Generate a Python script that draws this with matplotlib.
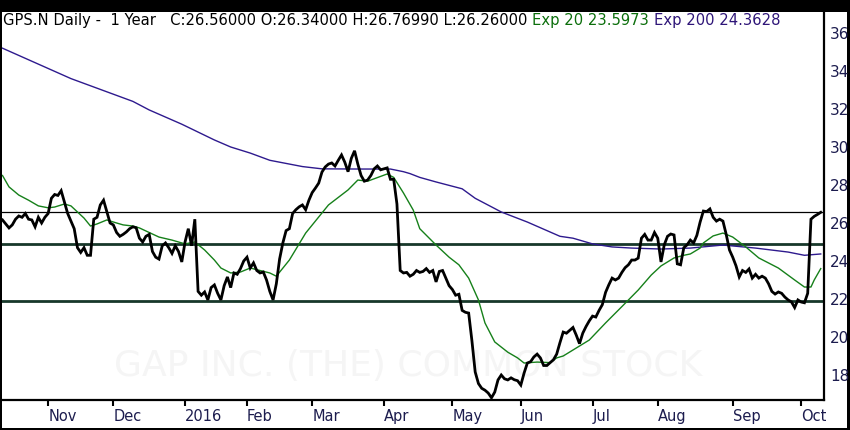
import matplotlib
matplotlib.use('Agg')
import matplotlib.pyplot as plt
import pandas as pd
from matplotlib.patches import Rectangle

# ---------------- data ----------------
holidays = ['2015-11-26', '2015-12-25', '2016-01-01', '2016-01-18', '2016-02-15',
            '2016-03-25', '2016-05-30', '2016-07-04', '2016-09-05']
start_date = '2015-10-13'
end_date = '2016-10-11'

# daily closes, one per trading session
close = [
    26.16, 25.95, 25.74, 25.90, 26.20, 26.37, 26.30, 26.50, 26.20, 26.16,   # 0-9
    25.80, 26.30, 26.00, 26.30, 26.50, 27.30, 27.50, 27.45, 27.70, 27.10,   # 10-19
    26.50, 26.10, 25.70, 24.70, 24.45, 24.70, 24.30, 24.30, 26.20, 26.30,   # 20-29
    26.95, 27.20, 26.60, 26.00, 25.90, 25.50, 25.30, 25.40, 25.53, 25.70,   # 30-39
    25.80, 25.75, 25.20, 25.00, 25.30, 25.40, 24.50, 24.20, 24.10, 24.80,   # 40-49
    24.95, 24.70, 24.40, 24.80, 24.50, 23.95, 25.00, 25.70, 24.80, 26.20,   # 50-59
    22.40, 22.20, 22.37, 21.95, 22.60, 22.74, 22.30, 21.95, 22.70, 23.16,   # 60-69
    22.60, 23.37, 23.30, 23.60, 24.00, 24.20, 23.63, 23.90, 23.50, 23.37,   # 70-79
    23.42, 23.00, 22.40, 21.95, 22.80, 24.10, 24.95, 25.60, 25.70, 26.50,   # 80-89
    26.70, 26.85, 26.95, 26.70, 27.20, 27.60, 27.84, 28.10, 28.68, 28.95,   # 90-99
    29.10, 29.16, 29.00, 29.30, 29.58, 29.20, 28.70, 29.40, 29.80, 29.10,   # 100-109
    28.50, 28.20, 28.26, 28.50, 28.85, 29.00, 28.80, 28.85, 28.90, 28.30,   # 110-119
    28.30, 27.00, 23.50, 23.37, 23.40, 23.20, 23.30, 23.50, 23.40, 23.45,   # 120-129
    23.60, 23.40, 23.50, 22.90, 23.45, 23.50, 23.10, 22.70, 22.50, 22.20,   # 130-139
    22.25, 21.40, 21.30, 21.26, 19.80, 18.16, 17.55, 17.30, 17.20, 17.05,   # 140-149
    16.80, 17.10, 17.74, 18.00, 17.80, 17.74, 17.85, 17.75, 17.70, 17.47,   # 150-159
    18.10, 18.63, 18.70, 18.95, 19.10, 18.90, 18.50, 18.50, 18.65, 18.80,   # 160-169
    19.10, 19.70, 20.26, 20.20, 20.35, 20.50, 20.10, 19.65, 20.20, 20.55,   # 170-179
    20.85, 21.10, 21.05, 21.40, 21.70, 22.35, 22.75, 23.10, 23.00, 23.10,   # 180-189
    23.40, 23.65, 23.80, 24.05, 24.05, 24.15, 25.20, 25.40, 25.10, 25.10,   # 190-199
    25.50, 25.20, 23.95, 24.85, 25.30, 25.42, 25.37, 23.85, 23.80, 24.70,   # 200-209
    24.85, 25.10, 24.95, 25.35, 26.05, 26.63, 26.60, 26.74, 26.30, 26.10,   # 210-219
    26.20, 26.10, 25.40, 24.58, 24.20, 23.75, 23.16, 23.50, 23.40, 23.58,   # 220-229
    23.10, 23.30, 23.10, 23.20, 23.10, 22.80, 22.40, 22.26, 22.37, 22.30,   # 230-239
    22.10, 21.95, 21.85, 21.55, 21.95, 21.84, 21.80, 22.30, 26.20, 26.35,   # 240-249
    26.45, 26.56,                                                           # 250-251
]

# EMA 20 (green) read at selected sessions
ema20_session = [0, 2, 5, 8, 11, 14, 16, 19, 21, 23, 25, 27, 29, 32, 35, 37, 40, 42, 45, 48,
                 52, 56, 59, 62, 65, 67, 70, 73, 76, 79, 82, 84, 88, 93, 100, 106, 109, 112,
                 118, 120, 123, 126, 128, 133, 137, 140, 143, 146, 148, 151, 155, 158, 160,
                 164, 168, 170, 172, 176, 180, 185, 190, 195, 199, 202, 206, 209, 211, 214,
                 215, 218, 221, 224, 228, 232, 238, 243, 246, 248, 249, 251]
ema20_value = [28.50, 27.90, 27.47, 27.20, 26.90, 26.80, 26.84, 27.00, 26.90, 26.58, 26.26,
               25.84, 25.95, 26.16, 26.00, 25.90, 25.84, 25.74, 25.50, 25.26, 25.10, 24.90,
               25.00, 24.58, 24.05, 23.63, 23.37, 23.42, 23.63, 23.50, 23.37, 23.20, 24.05,
               25.47, 26.95, 27.74, 28.26, 28.20, 28.58, 28.40, 27.58, 26.68, 25.70, 24.84,
               24.20, 23.80, 23.10, 21.95, 20.74, 19.74, 19.20, 18.90, 18.63, 18.68, 18.65,
               18.90, 19.00, 19.42, 19.84, 20.74, 21.60, 22.47, 23.26, 23.74, 24.16, 24.30,
               24.37, 24.68, 24.95, 25.32, 25.47, 25.26, 24.74, 24.16, 23.63, 23.00, 22.63,
               22.63, 23.00, 23.60]

# EMA 200 (blue) read at selected sessions
ema200_session = [0, 21, 40, 45, 55, 65, 70, 76, 82, 92, 98, 110, 119, 123, 125, 128, 133,
                  141, 145, 153, 161, 171, 175, 181, 187, 193, 202, 211, 221, 231, 241, 246, 251]
ema200_value = [35.20, 33.60, 32.40, 31.95, 31.20, 30.37, 30.00, 29.68, 29.30, 28.97, 28.85,
                28.84, 28.84, 28.70, 28.60, 28.40, 28.16, 27.80, 27.30, 26.58, 26.05, 25.30,
                25.20, 24.90, 24.74, 24.68, 24.63, 24.68, 24.84, 24.68, 24.47, 24.30, 24.37]

# horizontal reference lines
level_thin = 26.58
levels_thick = [24.88, 21.91]

month_labels = ['Nov', 'Dec', '2016', 'Feb', 'Mar', 'Apr', 'May', 'Jun', 'Jul', 'Aug', 'Sep', 'Oct']
y_ticks = [18, 20, 22, 24, 26, 28, 30, 32, 34, 36]

header_parts = [
    ('GPS.N Daily -  1 Year   C:26.56000 O:26.34000 H:26.76990 L:26.26000 ', '#000000'),
    ('Exp 20 23.5973 ', '#0b6e0b'),
    ('Exp 200 24.3628', '#2e1578'),
]
watermark = 'GAP INC. (THE) COMMON STOCK'

# ---------------- figure ----------------
W, H = 850, 430
sessions = pd.bdate_range(start_date, end_date, freq='C', holidays=holidays)
x = list(range(len(sessions)))

fig = plt.figure(figsize=(W / 100, H / 100), dpi=100, facecolor='black')
fig.add_artist(Rectangle((2 / W, 2 / H), 845 / W, 416 / H, transform=fig.transFigure,
                         facecolor='white', edgecolor='none', zorder=-5))

ax = fig.add_axes([2 / W, 30 / H, 822 / W, 388 / H])
ax.set_facecolor('white')

navy = '#1c1c4e'
ax.text(0.494, 0.088, watermark, transform=ax.transAxes, ha='center', va='center',
        fontsize=26, color='#f5f5f5', zorder=0.5)

ax.axhline(level_thin, color='black', lw=0.9, zorder=1)
for lv in levels_thick:
    ax.axhline(lv, color='#17382a', lw=2.0, zorder=1)

ax.plot(ema200_session, ema200_value, color='#2e1a8e', lw=1.0, zorder=2)
ax.plot(ema20_session, ema20_value, color='#16801a', lw=1.0, zorder=3)
ax.plot(x, close, color='black', lw=2.0, zorder=4, solid_joinstyle='miter')

ax.set_xlim(-0.15, 252.0)
ax.set_ylim(16.684, 37.105)

# month ticks at first session of each month (from Nov 2015)
s = pd.Series(range(len(sessions)), index=sessions)
firsts = s.groupby([sessions.year, sessions.month]).first().tolist()[1:]
ax.set_xticks(firsts)
ax.set_xticklabels(month_labels, ha='left')
ax.tick_params(axis='x', direction='out', length=4.5, width=1.5, color='black',
               labelsize=10.5, labelcolor=navy, pad=2)

ax.yaxis.tick_right()
ax.set_yticks(y_ticks)
ax.set_yticklabels([str(v) for v in y_ticks])
ax.tick_params(axis='y', length=0, labelsize=11, labelcolor=navy, pad=4.5)

for side in ['left', 'top']:
    ax.spines[side].set_visible(False)
for side in ['right', 'bottom']:
    ax.spines[side].set_linewidth(1.6)
    ax.spines[side].set_color('black')

# header, multi-coloured
fig.canvas.draw()
renderer = fig.canvas.get_renderer()
xpos = 3
for txt, col in header_parts:
    t = fig.text(xpos / W, (H - 25) / H, txt, color=col, fontsize=10.6, va='baseline',
                 ha='left')
    bb = t.get_window_extent(renderer=renderer)
    xpos = bb.x1

fig.savefig('out.png', dpi=100, facecolor=fig.get_facecolor())
